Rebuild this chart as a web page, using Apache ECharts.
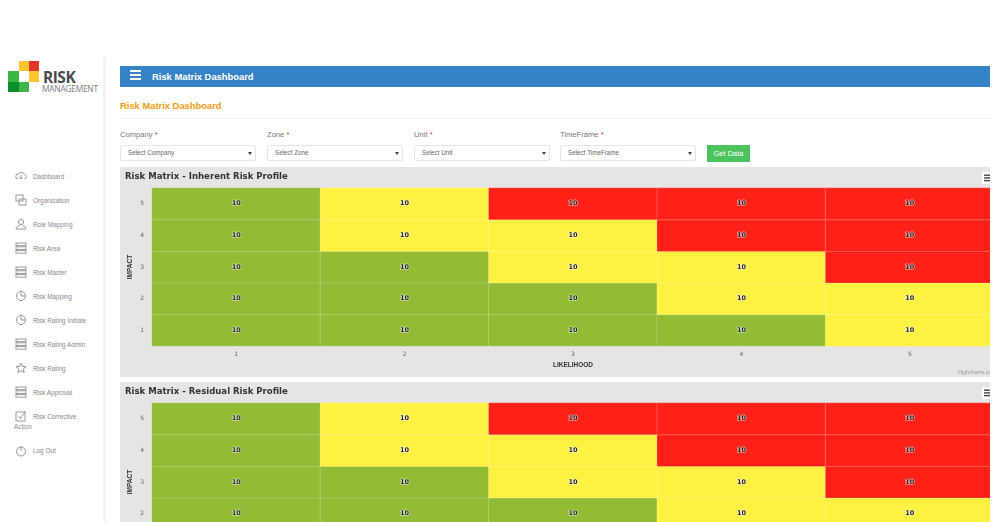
<!DOCTYPE html>
<html><head><meta charset="utf-8">
<script src="https://cdn.jsdelivr.net/npm/echarts@6/dist/echarts.min.js"></script>
<style>
html,body{margin:0;padding:0;width:1000px;height:522px;overflow:hidden;background:#fff;font-family:"Liberation Sans",Arial,sans-serif}
.a{position:absolute}
.nav{position:absolute;left:33px;font-size:6.4px;color:#8a8a8a;line-height:9px;white-space:nowrap}
.ic{position:absolute;left:15px;width:12px;height:12px}
.ic *{fill:none;stroke:#999;stroke-width:1}
.lab{position:absolute;top:130px;font-size:7.6px;color:#777;line-height:10px}
.lab b{color:#e33;font-weight:normal}
.sel{position:absolute;top:145px;height:14px;width:134px;border:1px solid #e6e6e6;border-radius:2px;font-size:6.3px;color:#666;line-height:14px;text-indent:7px;background:#fff}
.sel:after{content:"";position:absolute;right:3px;top:6px;border-left:2px solid transparent;border-right:2px solid transparent;border-top:3px solid #444}
.clip{position:absolute;left:120px;width:870px;height:210px;overflow:hidden}
.chart{width:874px;height:210px}
</style></head><body>
<div class="a" style="left:103px;top:57px;width:3px;height:465px;background:#f3f3f3"></div>
<div class="a" style="left:19px;top:61px;width:10px;height:10px;background:#fcc72e"></div>
<div class="a" style="left:29px;top:61px;width:10px;height:10px;background:#e2352d"></div>
<div class="a" style="left:8px;top:71px;width:11px;height:11px;background:#3db54a"></div>
<div class="a" style="left:29px;top:71px;width:10px;height:11px;background:#fcc72e"></div>
<div class="a" style="left:8px;top:82px;width:11px;height:10px;background:#0b8f2e"></div>
<div class="a" style="left:19px;top:82px;width:10px;height:10px;background:#3db54a"></div>
<div class="a" style="left:43px;top:69px;font:bold 15.5px/16px 'Open Sans',sans-serif;color:#4a4a4a;letter-spacing:-.5px">RISK</div>
<div class="a" style="left:42px;top:82.5px;font:8.4px/11px 'Open Sans',sans-serif;color:#808080;letter-spacing:-.25px">MANAGEMENT</div>
<div id="side"></div>
<div class="a" style="left:120px;top:66px;width:870px;height:21px;background:#3583c6"></div>
<div class="a" style="left:130px;top:70px;width:11px;height:2px;background:#fff;box-shadow:0 4px #fff,0 8px #fff"></div>
<div class="a" style="left:152px;top:70px;font-size:9.4px;line-height:13px;font-weight:bold;color:#fff">Risk Matrix Dashboard</div>
<div class="a" style="left:120px;top:99px;font-size:9.4px;line-height:13px;font-weight:bold;color:#f39c12">Risk Matrix Dashboard</div>
<div class="a" style="left:120px;top:118px;width:870px;height:1px;background:#eee"></div>
<div id="form"></div>
<div class="a" style="left:707px;top:145px;width:43px;height:17px;background:#4cc35d;color:#fff;font-size:7.5px;line-height:17px;text-align:center">Get Data</div>
<div class="clip" style="top:167px"><div id="c1" class="chart"></div></div>
<div class="clip" style="top:382px"><div id="c2" class="chart"></div></div>
<script>
const navItems=["Dashboard","Organization","Role Mapping","Risk Area","Risk Master","Risk Mapping","Risk Rating Initiate","Risk Rating Admin","Risk Rating","Risk Approval"];
const formLabels=["Company","Zone","Unit","TimeFrame"];
const selectTexts=["Select Company","Select Zone","Select Unit","Select TimeFrame"];
const likelihood=["1","2","3","4","5"];
const impact=["1","2","3","4","5"];
const cellValues=[[10,10,10,10,10],[10,10,10,10,10],[10,10,10,10,10],[10,10,10,10,10],[10,10,10,10,10]];
const inherentLevels=[["g","g","g","g","y"],["g","g","g","y","y"],["g","g","y","y","r"],["g","y","y","r","r"],["g","y","r","r","r"]];
const residualLevels=[["g","g","g","g","y"],["g","g","g","y","y"],["g","g","y","y","r"],["g","y","y","r","r"],["g","y","r","r","r"]];
const levelColors={g:"#93bb35",y:"#fff142",r:"#ff2017"};

const icons={
 cloud:'<path d="M3 9a2.5 2.5 0 0 1 .5-5 3.5 3.5 0 0 1 6 .5 2.3 2.3 0 0 1 0 4.5M6 5v4M4.5 7.5L6 9l1.5-1.5"/>',
 org:'<rect x="1" y="1" width="7" height="6"/><rect x="4" y="5" width="7" height="6"/>',
 user:'<circle cx="6" cy="4" r="2.6"/><path d="M1 11c0-2 2-3 3.5-3.5M11 11c0-2-2-3-3.5-3.5M1 11h10"/>',
 list:'<rect x="1" y="1" width="10" height="2.6"/><rect x="1" y="4.8" width="10" height="2.6"/><rect x="1" y="8.6" width="10" height="2.6"/>',
 pie:'<circle cx="6" cy="6" r="4.6"/><path d="M6 1.4V6h4.6"/>',
 star:'<path d="M6 1l1.5 3.4 3.5.3-2.7 2.3.9 3.5L6 8.6 2.8 10.5l.9-3.5L1 4.7l3.5-.3z"/>',
 check:'<rect x="1" y="2" width="9" height="9"/><path d="M3.5 6l2 2.5L10 1.5"/>',
 power:'<circle cx="6" cy="6.5" r="4.5"/><path d="M6 1v5"/>'
};
const navIcons=["cloud","org","user","list","list","pie","pie","list","star","list"];
const side=document.getElementById("side");
function ic(name,y){return '<svg class="ic" viewBox="0 0 12 12" style="top:'+(y-6)+'px">'+icons[name]+'</svg>';}
let h='';
navItems.forEach((t,i)=>{const y=176+i*24;h+=ic(navIcons[i],y)+'<div class="nav" style="top:'+(y-4.5)+'px">'+t+'</div>';});
h+=ic("check",416)+'<div class="nav" style="top:411.5px">Risk Corrective</div><div class="nav" style="top:422px;left:14px">Action</div>';
h+=ic("power",451)+'<div class="nav" style="top:446px">Log Out</div>';
side.innerHTML=h;
const formX=[120,267,414,560];
let f='';
formLabels.forEach((t,i)=>{f+='<div class="lab" style="left:'+formX[i]+'px">'+t+' <b>*</b></div><div class="sel" style="left:'+formX[i]+'px">'+selectTexts[i]+'</div>';});
document.getElementById("form").innerHTML=f;

function draw(id,titleText,levels){
 const data=[];
 levels.forEach((row,y)=>row.forEach((lv,x)=>data.push({value:[x,y,cellValues[y][x]],itemStyle:{color:levelColors[lv]}})));
 const chart=echarts.init(document.getElementById(id),null,{renderer:"canvas"});
 chart.setOption({
  animation:false,backgroundColor:"#e6e4e5",
  title:{text:titleText,left:0,top:0,textStyle:{fontFamily:"DejaVu Sans Condensed, DejaVu Sans",fontSize:9.5,fontWeight:"bold",color:"#333"}},
  grid:{left:32,top:21,width:842,height:158,outerBoundsMode:"none",containLabel:false},
  xAxis:{type:"category",data:likelihood,name:"LIKELIHOOD",nameLocation:"middle",nameGap:16,nameMoveOverlap:false,
   nameTextStyle:{fontSize:6.5,color:"#333",fontWeight:"bold",fontFamily:"Liberation Sans"},
   axisLine:{show:false},axisTick:{show:false},splitArea:{show:false},
   axisLabel:{fontSize:6,color:"#666",margin:5,fontFamily:"DejaVu Sans"}},
  yAxis:{type:"category",data:impact,name:"IMPACT",nameLocation:"middle",nameGap:18,nameRotate:90,nameMoveOverlap:false,
   nameTextStyle:{fontSize:6.5,color:"#333",fontWeight:"bold",fontFamily:"Liberation Sans"},
   axisLine:{show:false},axisTick:{show:false},
   axisLabel:{fontSize:6,color:"#666",margin:8,fontFamily:"DejaVu Sans"}},
  series:[{type:"heatmap",data,
   itemStyle:{borderColor:"rgba(255,255,255,0.22)",borderWidth:1},
   label:{show:true,formatter:p=>String(p.value[2]),fontFamily:"DejaVu Sans",fontSize:6.5,fontWeight:"bold",color:"#222",textBorderColor:"rgba(255,255,255,0.7)",textBorderWidth:1.2}}],
  graphic:[
   {type:"text",x:838,y:202,style:{text:"Highcharts.com",fontSize:5.5,fill:"#999",fontFamily:"Liberation Sans"}},
   {type:"rect",shape:{x:862,y:5,width:8,height:12},style:{fill:"#fff"}},
   {type:"rect",shape:{x:864,y:7.5,width:8,height:1.4},style:{fill:"#444"}},
   {type:"rect",shape:{x:864,y:10.2,width:8,height:1.4},style:{fill:"#444"}},
   {type:"rect",shape:{x:864,y:12.9,width:8,height:1.4},style:{fill:"#444"}}
  ]
 });
}
draw("c1","Risk Matrix - Inherent Risk Profile",inherentLevels);
draw("c2","Risk Matrix - Residual Risk Profile",residualLevels);
</script></body></html>
